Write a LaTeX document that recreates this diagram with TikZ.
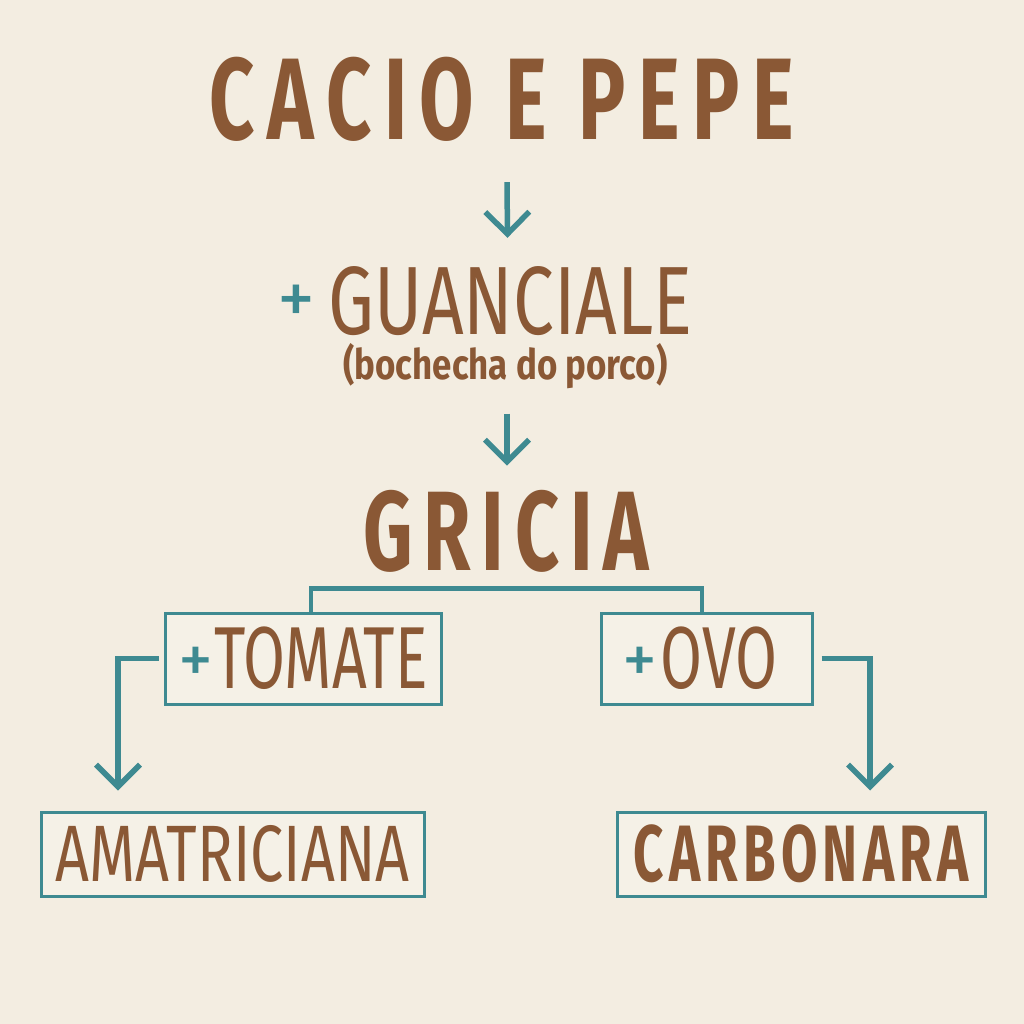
\documentclass[tikz,border=0pt]{standalone}
\usepackage{fontspec}
\usepackage{graphicx}
\setmainfont{Fira Sans}
\usetikzlibrary{arrows.meta}
\definecolor{bgc}{HTML}{F3EDE1}
\definecolor{pbrown}{HTML}{8A5835}
\definecolor{pteal}{HTML}{3E8A91}
\newcommand{\sq}[2]{\scalebox{#1}[1]{#2}}
\newcommand{\tplus}{{\color{pteal}\fontsize{70}{70}\selectfont\fontseries{m}\selectfont\raisebox{5pt}{+}}}
\tikzset{
  txt/.style={inner sep=0pt, text=pbrown},
  boxn/.style={draw=pteal, line width=3pt, fill=bgc!80!white, text=pbrown, inner sep=0pt},
  conn/.style={draw=pteal, line width=4.5pt},
  arr/.style={draw=pteal, line width=5.5pt, -{Straight Barb[length=22pt,width=44pt,line width=5.5pt]}},
}
\begin{document}
\begin{tikzpicture}[x=1pt,y=-1pt]
\fill[bgc] (0,0) rectangle (1024,1024);
\useasboundingbox (0,0) rectangle (1024,1024);

\node[txt, anchor=base] (title) at (502,140)
  {\fontsize{116}{116}\selectfont\bfseries\addfontfeatures{LetterSpace=16}\sq{0.68}{CACIO E PEPE}};

\node[txt, anchor=base] (guan) at (510.5,334)
  {\fontsize{97}{97}\selectfont\sq{0.75}{GUANCIALE}};
\node[txt, text=pteal, anchor=center] (plusg) at (296,305)
  {\fontsize{76}{76}\selectfont\fontseries{m}\selectfont +};
\node[txt, anchor=base] (boch) at (505.5,379)
  {\fontsize{42}{42}\selectfont\fontseries{sb}\selectfont\sq{0.83}{(bochecha do porco)}};

\node[txt, anchor=base] (gricia) at (506,570)
  {\fontsize{113}{113}\selectfont\bfseries\addfontfeatures{LetterSpace=14}\sq{0.68}{GRICIA}};

\node[boxn, minimum width=276pt, minimum height=91pt] (tomate) at (303,658.5)
  {\tplus\hspace{1pt}\fontsize{88}{88}\selectfont\sq{0.69}{TOMATE}};
\node[boxn, minimum width=211pt, minimum height=91pt] (ovo) at (706.5,658.5)
  {\makebox[180pt][l]{\hspace*{6pt}\tplus\hspace{3pt}\fontsize{88}{88}\selectfont\sq{0.69}{OVO}}};
\node[boxn, minimum width=383pt, minimum height=84pt] (amat) at (232.5,854)
  {\fontsize{80}{80}\selectfont\sq{0.74}{AMATRICIANA}};
\node[boxn, minimum width=368pt, minimum height=84pt] (carb) at (801,854)
  {\fontsize{80}{80}\selectfont\fontseries{sb}\selectfont\addfontfeatures{LetterSpace=10}\sq{0.66}{CARBONARA}};

\draw[arr] ([xshift=5pt,yshift=-40pt]title.south) -- ([xshift=-3pt,yshift=28pt]guan.north);
\draw[arr] ([xshift=1.5pt,yshift=-25pt]boch.south) -- ([xshift=1pt,yshift=24pt]gricia.north);

\draw[conn] ([xshift=8pt]tomate.north) -- ++(0,-23) -| ([xshift=-4.5pt]ovo.north);
\draw[arr] ([xshift=-5pt]tomate.west) -| ([xshift=-114.5pt,yshift=20pt]amat.north);
\draw[arr] ([xshift=8pt]ovo.east) -| ([xshift=69pt,yshift=20pt]carb.north);
\end{tikzpicture}
\end{document}
